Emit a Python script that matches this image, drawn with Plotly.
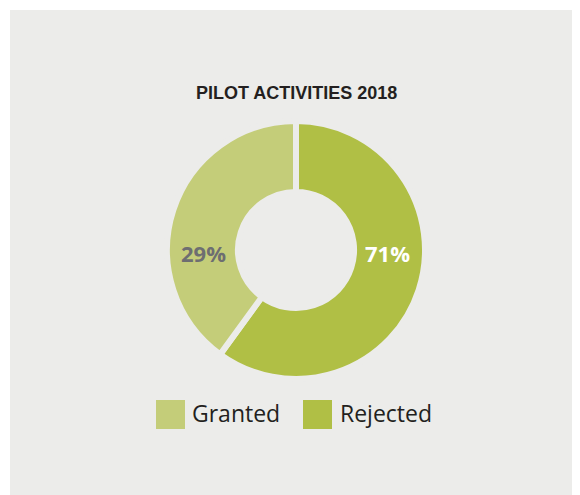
import plotly.graph_objects as go

W, H = 580, 495
OFF = 8  # page body margin

# Data
categories = ["Granted", "Rejected"]
slice_shares = [40, 60]          # slice sizes as drawn in the reference
label_texts = ["29%", "71%"]     # labels printed in the reference
colors = ["#C4CD79", "#B0BF45"]
title_text = "PILOT ACTIVITIES 2018"

BG = "#ECECEA"

def px(x):
    return (x - OFF) / W

def py(y):
    return 1 - (y - OFF) / H

cx, cy, R = 296, 250, 129

# draw order: Rejected clockwise from 12 o'clock, then Granted
order = [1, 0]

fig = go.Figure()
fig.add_trace(go.Pie(
    labels=[categories[i] for i in order],
    values=[slice_shares[i] for i in order],
    sort=False,
    direction="clockwise",
    rotation=0,
    hole=0.45,
    marker=dict(colors=[colors[i] for i in order], line=dict(color=BG, width=6)),
    textinfo="none",
    hoverinfo="label+value",
    showlegend=False,
    domain=dict(x=[px(cx - R), px(cx + R)], y=[py(cy + R), py(cy - R)]),
))

shapes = [
    dict(type="rect", xref="paper", yref="paper", x0=px(10), x1=1.0, y0=0.0, y1=py(10),
         fillcolor=BG, line=dict(width=0), layer="below"),
]

annotations = [
    dict(text="<b>" + title_text + "</b>", x=px(296), y=py(93), xref="paper", yref="paper",
         showarrow=False, xanchor="center", yanchor="middle",
         font=dict(family="Liberation Sans, Arial, sans-serif", size=18, color="#231F20")),
    dict(text="<b>" + label_texts[0] + "</b>", x=px(203), y=py(253), xref="paper", yref="paper",
         showarrow=False, xanchor="center", yanchor="middle",
         font=dict(family="Open Sans, sans-serif", size=22, color="#6D6E71")),
    dict(text="<b>" + label_texts[1] + "</b>", x=px(387), y=py(253), xref="paper", yref="paper",
         showarrow=False, xanchor="center", yanchor="middle",
         font=dict(family="Open Sans, sans-serif", size=22, color="#FFFFFF")),
]

# Legend drawn as squares + text
legend_items = [(156, 190), (303, 338)]
for (sx, tx), name, col in zip(legend_items, categories, colors):
    shapes.append(dict(type="rect", xref="paper", yref="paper",
                       x0=px(sx), x1=px(sx + 29), y0=py(429), y1=py(400),
                       fillcolor=col, line=dict(width=0)))
    annotations.append(dict(text=name, x=px(tx), y=py(413), xref="paper", yref="paper",
                            showarrow=False, xanchor="left", yanchor="middle",
                            font=dict(family="Open Sans, sans-serif", size=23, color="#231F20")))

fig.update_layout(
    width=W, height=H,
    margin=dict(l=0, r=0, t=0, b=0),
    paper_bgcolor="#FFFFFF",
    plot_bgcolor="#FFFFFF",
    shapes=shapes,
    annotations=annotations,
    showlegend=False,
)

fig.write_html("out.html")
